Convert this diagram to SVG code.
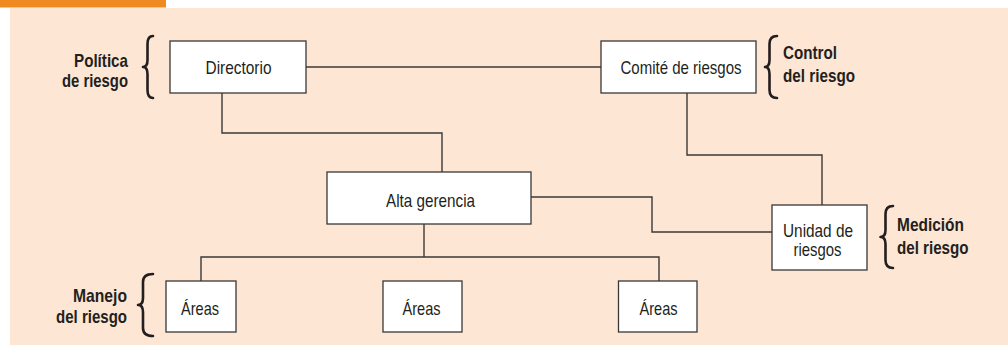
<svg xmlns="http://www.w3.org/2000/svg" width="1008" height="346" viewBox="0 0 1008 346">
<defs>
<style>
.box{fill:#ffffff;stroke:#3a3838;stroke-width:1.3}
.ln{fill:none;stroke:#3a3838;stroke-width:1.4}
.br{fill:none;stroke:#231f20;stroke-width:2.6;stroke-linecap:round;stroke-linejoin:round}
.t{font-family:"Liberation Sans",Arial,sans-serif;font-size:18.5px;fill:#231f20;text-anchor:middle}
.lb{font-family:"Liberation Sans",Arial,sans-serif;font-size:19px;font-weight:bold;fill:#231f20}
.r{text-anchor:end}
</style>
</defs>
<rect x="0" y="0" width="1008" height="346" fill="#ffffff"/>
<rect x="10" y="8" width="998" height="337" fill="#fde6d3"/>
<rect x="0" y="0" width="166" height="7.5" fill="#ee8a1f"/>

<g id="connectors">
<path class="ln" d="M306 67 H601"/>
<path class="ln" d="M222 93 V133 H442 V172"/>
<path class="ln" d="M687 93 V155 H822 V205"/>
<path class="ln" d="M531 197 H652 V232 H772"/>
<path class="ln" d="M424 224 V257"/>
<path class="ln" d="M201 281 V257 H659 V281"/>
</g>

<g id="directorio">
<rect class="box" x="170" y="41" width="136" height="52"/>
<text class="t" x="238.5" y="74" textLength="66" lengthAdjust="spacingAndGlyphs">Directorio</text>
</g>
<g id="comite">
<rect class="box" x="601" y="41" width="155" height="52"/>
<text class="t" x="681" y="74" textLength="121" lengthAdjust="spacingAndGlyphs">Comité de riesgos</text>
</g>
<g id="alta-gerencia">
<rect class="box" x="327" y="172" width="204" height="52"/>
<text class="t" x="430.5" y="207" textLength="89" lengthAdjust="spacingAndGlyphs">Alta gerencia</text>
</g>
<g id="unidad">
<rect class="box" x="772" y="205" width="95" height="65"/>
<text class="t" x="818" y="237" textLength="70" lengthAdjust="spacingAndGlyphs">Unidad de</text>
<text class="t" x="817.5" y="256" textLength="48" lengthAdjust="spacingAndGlyphs">riesgos</text>
</g>
<g id="areas1">
<rect class="box" x="166" y="281" width="70" height="51"/>
<text class="t" x="200" y="315" textLength="38" lengthAdjust="spacingAndGlyphs">Áreas</text>
</g>
<g id="areas2">
<rect class="box" x="383" y="281" width="79" height="51"/>
<text class="t" x="421.5" y="315" textLength="38" lengthAdjust="spacingAndGlyphs">Áreas</text>
</g>
<g id="areas3">
<rect class="box" x="618.5" y="281" width="78.5" height="51"/>
<text class="t" x="658.5" y="315" textLength="38" lengthAdjust="spacingAndGlyphs">Áreas</text>
</g>

<g id="label-politica">
<path class="br" d="M153 36 Q147.5 36 147.5 44 L147.5 60 Q147.5 67 143 67 Q147.5 67 147.5 74 L147.5 90 Q147.5 98 153 98"/>
<text class="lb r" x="128" y="67" textLength="54" lengthAdjust="spacingAndGlyphs">Política</text>
<text class="lb r" x="128" y="87" textLength="66" lengthAdjust="spacingAndGlyphs">de riesgo</text>
</g>
<g id="label-control">
<path class="br" d="M777 36 Q769.5 36 769.5 44 L769.5 60 Q769.5 67 765 67 Q769.5 67 769.5 74 L769.5 90 Q769.5 98 777 98"/>
<text class="lb" x="783" y="59" textLength="54" lengthAdjust="spacingAndGlyphs">Control</text>
<text class="lb" x="783" y="81.5" textLength="72" lengthAdjust="spacingAndGlyphs">del riesgo</text>
</g>
<g id="label-medicion">
<path class="br" d="M893 206 Q885.5 206 885.5 214 L885.5 230 Q885.5 237 880.5 237 Q885.5 237 885.5 244 L885.5 260 Q885.5 268 893 268"/>
<text class="lb" x="897" y="231" textLength="67" lengthAdjust="spacingAndGlyphs">Medición</text>
<text class="lb" x="897" y="253.5" textLength="71.5" lengthAdjust="spacingAndGlyphs">del riesgo</text>
</g>
<g id="label-manejo">
<path class="br" d="M153 274 Q143 274 143 282 L143 298 Q143 305 138 305 Q143 305 143 312 L143 328 Q143 336 153 336"/>
<text class="lb r" x="127" y="301.5" textLength="54" lengthAdjust="spacingAndGlyphs">Manejo</text>
<text class="lb r" x="127" y="322.5" textLength="71" lengthAdjust="spacingAndGlyphs">del riesgo</text>
</g>
</svg>
